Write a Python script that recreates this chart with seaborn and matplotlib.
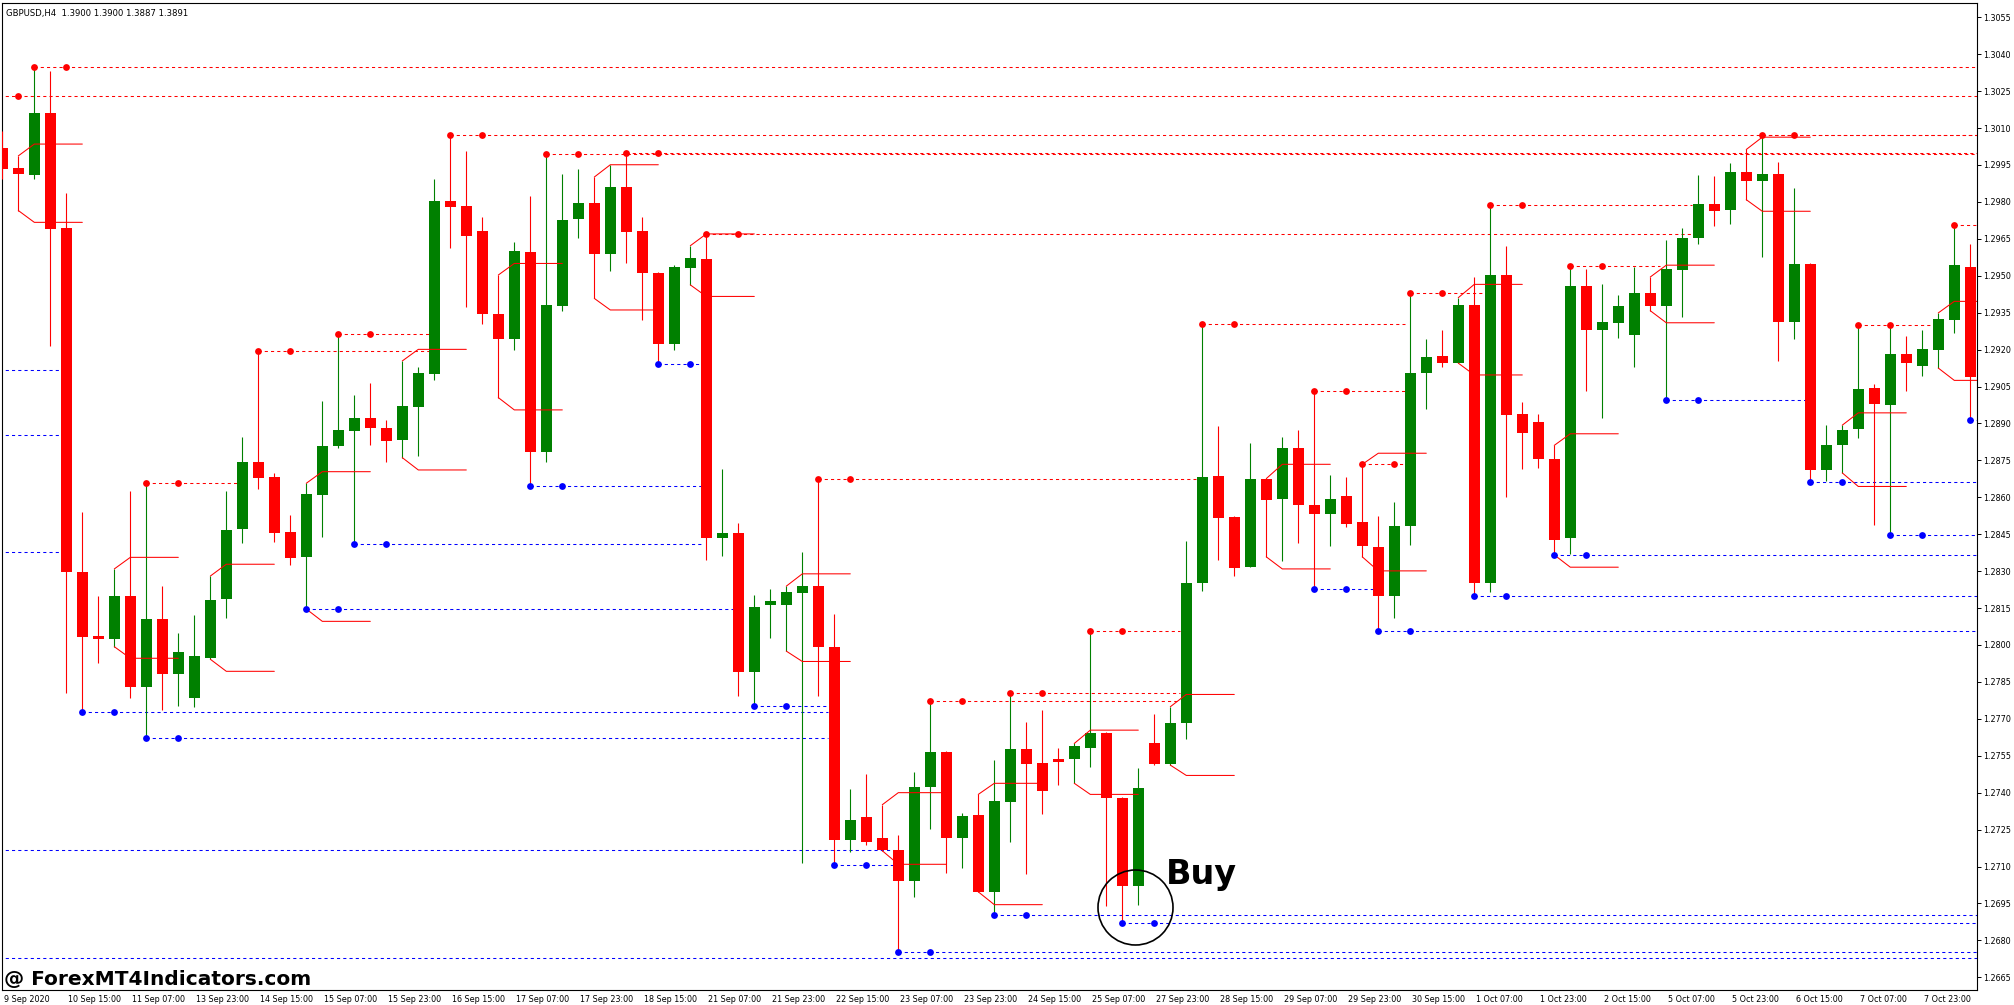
#!/usr/bin/env python
# -*- coding: utf-8 -*-

"""
GBPUSD H4 chart with fractal support / resistance levels
=========================================================

Redraws an MT4 screenshot: candles, fractal dots with their dotted
levels, daily range brackets and the "Buy" mark.
"""

import numpy as np
import pandas as pd
import matplotlib
matplotlib.use("Agg")
import matplotlib.pyplot as plt
from matplotlib.transforms import ScaledTranslation
import seaborn as sns

# --- candles (one per H4 bar, left to right) ---------------------------------
OPEN = [1.30019, 1.29936, 1.29911, 1.30161, 1.29692, 1.28297, 1.28037, 1.28026, 1.28199, 1.27831,
        1.28106, 1.27884, 1.27786, 1.27949, 1.28186, 1.28470, 1.28744, 1.28684, 1.28459, 1.28359,
        1.28610, 1.28809, 1.28871, 1.28922, 1.28882, 1.28833, 1.28968, 1.29102, 1.29804, 1.29783,
        1.29682, 1.29344, 1.29242, 1.29595, 1.28786, 1.29376, 1.29729, 1.29794, 1.29590, 1.29861,
        1.29682, 1.29510, 1.29222, 1.29533, 1.29568, 1.28435, 1.28453, 1.27891, 1.28164, 1.28164,
        1.28212, 1.28239, 1.27990, 1.27209, 1.27301, 1.27214, 1.27169, 1.27040, 1.27425, 1.27567,
        1.27214, 1.27308, 1.26997, 1.27363, 1.27577, 1.27520, 1.27537, 1.27535, 1.27582, 1.27644,
        1.27380, 1.27022, 1.27600, 1.27517, 1.27682, 1.28251, 1.28687, 1.28520, 1.28318, 1.28674,
        1.28595, 1.28799, 1.28567, 1.28532, 1.28605, 1.28500, 1.28398, 1.28197, 1.28483, 1.29105,
        1.29174, 1.29147, 1.29381, 1.28251, 1.29503, 1.28938, 1.28906, 1.28754, 1.28433, 1.29458,
        1.29279, 1.29309, 1.29259, 1.29428, 1.29378, 1.29525, 1.29655, 1.29791, 1.29769, 1.29921,
        1.29886, 1.29913, 1.29314, 1.29548, 1.28712, 1.28811, 1.28876, 1.29043, 1.28973, 1.29182,
        1.29135, 1.29199, 1.29321, 1.29535]
HIGH = [1.30088, 1.29987, 1.30347, 1.30332, 1.29835, 1.28540, 1.28199, 1.28309, 1.28626, 1.28657,
        1.28240, 1.28049, 1.28122, 1.28280, 1.28626, 1.28843, 1.29196, 1.28700, 1.28527, 1.28657,
        1.28991, 1.29264, 1.29016, 1.29065, 1.28914, 1.29154, 1.29129, 1.29893, 1.30073, 1.30007,
        1.29739, 1.29503, 1.29637, 1.29824, 1.29993, 1.29913, 1.29933, 1.29901, 1.29948, 1.30000,
        1.29739, 1.29515, 1.29545, 1.29622, 1.29670, 1.28714, 1.28495, 1.28202, 1.28226, 1.28239,
        1.28376, 1.28674, 1.28127, 1.27413, 1.27475, 1.27351, 1.27228, 1.27483, 1.27774, 1.27570,
        1.27318, 1.27393, 1.27532, 1.27806, 1.27687, 1.27736, 1.27580, 1.27600, 1.28055, 1.27646,
        1.27382, 1.27500, 1.27719, 1.27749, 1.28421, 1.29304, 1.28888, 1.28522, 1.28819, 1.28676,
        1.28843, 1.28873, 1.29030, 1.28689, 1.28682, 1.28734, 1.28522, 1.28580, 1.29428, 1.29242,
        1.29279, 1.29411, 1.29495, 1.29789, 1.29620, 1.28988, 1.28938, 1.28811, 1.29540, 1.29528,
        1.29465, 1.29423, 1.29535, 1.29495, 1.29647, 1.29694, 1.29908, 1.29906, 1.29958, 1.30013,
        1.30070, 1.29961, 1.29856, 1.29550, 1.28893, 1.28893, 1.29301, 1.29060, 1.29301, 1.29254,
        1.29279, 1.29349, 1.29707, 1.29627]
LOW = [1.29892, 1.29765, 1.29895, 1.29216, 1.27806, 1.27728, 1.27928, 1.27993, 1.27786, 1.27624,
       1.27736, 1.27754, 1.27749, 1.27942, 1.28108, 1.28416, 1.28635, 1.28420, 1.28326, 1.28146,
       1.28440, 1.28802, 1.28412, 1.28813, 1.28745, 1.28761, 1.28768, 1.29078, 1.29614, 1.29375,
       1.29306, 1.29005, 1.29199, 1.28647, 1.28744, 1.29358, 1.29652, 1.29408, 1.29520, 1.29553,
       1.29321, 1.29142, 1.29197, 1.29463, 1.28346, 1.28363, 1.27791, 1.27754, 1.28027, 1.27975,
       1.27114, 1.27791, 1.27107, 1.27157, 1.27189, 1.27164, 1.26754, 1.26977, 1.27251, 1.27072,
       1.27094, 1.26997, 1.26903, 1.27201, 1.27070, 1.27313, 1.27433, 1.27438, 1.27505, 1.26940,
       1.26870, 1.26945, 1.27512, 1.27512, 1.27619, 1.28221, 1.28346, 1.28279, 1.28316, 1.28358,
       1.28343, 1.28416, 1.28226, 1.28401, 1.28478, 1.28358, 1.28057, 1.28110, 1.28408, 1.28960,
       1.29130, 1.29145, 1.28197, 1.28214, 1.28602, 1.28714, 1.28719, 1.28366, 1.28371, 1.29030,
       1.28923, 1.29249, 1.29130, 1.29358, 1.28995, 1.29334, 1.29630, 1.29702, 1.29712, 1.29809,
       1.29577, 1.29155, 1.29242, 1.28662, 1.28667, 1.28699, 1.28839, 1.28488, 1.28445, 1.29030,
       1.29092, 1.29125, 1.29266, 1.28916]
CLOSE = [1.29935, 1.29912, 1.30161, 1.29691, 1.28298, 1.28034, 1.28026, 1.28199, 1.27831, 1.28106,
         1.27884, 1.27972, 1.27955, 1.28183, 1.28467, 1.28744, 1.28680, 1.28456, 1.28355, 1.28614,
         1.28809, 1.28874, 1.28922, 1.28883, 1.28830, 1.28971, 1.29105, 1.29804, 1.29781, 1.29663,
         1.29343, 1.29242, 1.29600, 1.28786, 1.29381, 1.29727, 1.29794, 1.29590, 1.29861, 1.29679,
         1.29513, 1.29222, 1.29535, 1.29573, 1.28433, 1.28453, 1.27891, 1.28154, 1.28177, 1.28214,
         1.28239, 1.27990, 1.27209, 1.27288, 1.27201, 1.27169, 1.27040, 1.27425, 1.27567, 1.27214,
         1.27306, 1.26997, 1.27366, 1.27577, 1.27517, 1.27408, 1.27525, 1.27590, 1.27644, 1.27380,
         1.27022, 1.27418, 1.27517, 1.27682, 1.28251, 1.28682, 1.28515, 1.28313, 1.28674, 1.28590,
         1.28799, 1.28567, 1.28532, 1.28592, 1.28493, 1.28403, 1.28197, 1.28483, 1.29105, 1.29169,
         1.29147, 1.29381, 1.28251, 1.29503, 1.28935, 1.28863, 1.28754, 1.28428, 1.29458, 1.29279,
         1.29311, 1.29376, 1.29428, 1.29378, 1.29528, 1.29652, 1.29791, 1.29764, 1.29921, 1.29886,
         1.29913, 1.29314, 1.29548, 1.28712, 1.28811, 1.28873, 1.29040, 1.28978, 1.29184, 1.29147,
         1.29202, 1.29324, 1.29545, 1.29090]

# --- axis labels ---------------------------------------------------------------
PRICE_TICKS = [1.2665, 1.2680, 1.2695, 1.2710, 1.2725, 1.2740, 1.2755, 1.2770, 1.2785,
               1.2800, 1.2815, 1.2830, 1.2845, 1.2860, 1.2875, 1.2890, 1.2905, 1.2920,
               1.2935, 1.2950, 1.2965, 1.2980, 1.2995, 1.3010, 1.3025, 1.3040, 1.3055]
DATE_TICK_BARS = [0, 4, 8, 12, 16, 20, 24, 28, 32, 36, 40, 44, 48, 52, 56, 60,
                  64, 68, 72, 76, 80, 84, 88, 92, 96, 100, 104, 108, 112, 116, 120]
DATE_LABELS = ["9 Sep 2020", "10 Sep 15:00", "11 Sep 07:00", "13 Sep 23:00", "14 Sep 15:00",
               "15 Sep 07:00", "15 Sep 23:00", "16 Sep 15:00", "17 Sep 07:00", "17 Sep 23:00",
               "18 Sep 15:00", "21 Sep 07:00", "21 Sep 23:00", "22 Sep 15:00", "23 Sep 07:00",
               "23 Sep 23:00", "24 Sep 15:00", "25 Sep 07:00", "27 Sep 23:00", "28 Sep 15:00",
               "29 Sep 07:00", "29 Sep 23:00", "30 Sep 15:00", "1 Oct 07:00", "1 Oct 23:00",
               "2 Oct 15:00", "5 Oct 07:00", "5 Oct 23:00", "6 Oct 15:00", "7 Oct 07:00",
               "7 Oct 23:00"]

# --- fractal resistance levels (red): fractal bar, level, bar where line stops
RES_BAR = [-1, 2, 9, 16, 21, 28, 34, 39, 44, 51, 58, 63, 68, 75, 82, 85, 88, 93, 98, 110, 116, 122]
RES_LEVEL = [1.30230, 1.30347, 1.28657, 1.29196, 1.29264, 1.30073, 1.29993, 1.30000, 1.29670,
             1.28674, 1.27774, 1.27806, 1.28055, 1.29304, 1.29030, 1.28734, 1.29428, 1.29789,
             1.29540, 1.30070, 1.29301, 1.29707]
RES_END = [124, 124, 14.65, 26.7, 26.7, 124, 124, 124, 105.6, 74.6, 73.6, 73.6, 73.6,
           87.7, 87.7, 87.7, 92.7, 105.6, 103.6, 124, 120.6, 124]

# --- fractal support levels (blue)
SUP_BAR = [-5, -5, -5, -5, -5, 5, 9, 19, 22, 33, 41, 47, 52, 56, 62, 70, 82, 86, 92, 97,
           104, 113, 118, 123]
SUP_LEVEL = [1.29116, 1.28852, 1.28377, 1.27166, 1.26728, 1.27728, 1.27624, 1.28146, 1.28412,
             1.28647, 1.29142, 1.27754, 1.27107, 1.26754, 1.26903, 1.26870, 1.28226, 1.28057,
             1.28197, 1.28366, 1.28995, 1.28662, 1.28445, 1.28916]
SUP_END = [3.6, 3.6, 3.6, 55.7, 124, 51.6, 51.6, 45.7, 43.7, 43.7, 43.7, 51.6, 55.7, 124,
           124, 124, 85.7, 124, 124, 124, 112.8, 124, 124, 124]

# --- daily range brackets: start bar, upper level, lower level
RANGE_BAR = [1, 7, 13, 19, 25, 31, 37, 43, 49, 55, 61, 67, 73, 79, 85, 91, 97, 103, 109, 115, 121]
RANGE_HIGH = [1.30035, 1.28356, 1.28328, 1.28704, 1.29201, 1.29550, 1.29951, 1.29670, 1.28289,
              1.27400, 1.27438, 1.27654, 1.27799, 1.28734, 1.28779, 1.29465, 1.28858, 1.29543,
              1.30063, 1.28943, 1.29396]
RANGE_LOW = [1.29717, 1.27946, 1.27893, 1.28096, 1.28711, 1.28955, 1.29361, 1.29416, 1.27933,
             1.27109, 1.26945, 1.27393, 1.27470, 1.28309, 1.28301, 1.29097, 1.28316, 1.29309,
             1.29762, 1.28644, 1.29075]

BUY_BAR = 70.8
BUY_PRICE = 1.26935

BULL = "#008000"
BEAR = "#ff0000"


def draw_candles(ax, df):
    """Wicks as vertical lines, bodies as bars."""
    colors = np.where(df["close"] >= df["open"], BULL, BEAR)
    ax.vlines(df["bar"], df["low"], df["high"], colors=colors, linewidth=0.8, zorder=3)
    body = (df["close"] - df["open"]).abs()
    bottom = df[["open", "close"]].min(axis=1)
    ax.bar(df["bar"], body, bottom=bottom, width=0.66, color=colors, linewidth=0, zorder=4)


def draw_levels(ax, bars, levels, ends, color):
    """Dotted fractal levels with a dot on the fractal bar and two bars later."""
    ax.hlines(levels, bars, ends, colors=color, linewidth=0.75,
              linestyles=(0, (3, 3)), zorder=2)
    dots = pd.DataFrame({
        "bar": list(bars) + [b + 2 for b in bars],
        "price": list(levels) * 2,
    })
    sns.scatterplot(data=dots, x="bar", y="price", color=color, s=24,
                    linewidth=0, legend=False, ax=ax, zorder=6)


def draw_ranges(ax, high, low):
    for k0, up, lo in zip(RANGE_BAR, RANGE_HIGH, RANGE_LOW):
        xs = [k0, k0 + 1, k0 + 4]
        ax.plot(xs, [high[k0], up, up], color=BEAR, linewidth=0.75, zorder=5)
        ax.plot(xs, [low[k0], lo, lo], color=BEAR, linewidth=0.75, zorder=5)


def plot_chart():
    sns.set_style("white")
    plt.rcParams["font.family"] = ["DejaVu Sans"]
    plt.rcParams["text.color"] = "black"

    df = pd.DataFrame({"open": OPEN, "high": HIGH, "low": LOW, "close": CLOSE})
    df["bar"] = np.arange(len(df))

    fig = plt.figure(figsize=(20.14, 10.05), dpi=100)
    ax = fig.add_axes([2 / 2014, 15 / 1005, 1975 / 2014, 987 / 1005])

    draw_levels(ax, RES_BAR, RES_LEVEL, RES_END, BEAR)
    draw_levels(ax, SUP_BAR, SUP_LEVEL, SUP_END, "#0000ff")
    draw_candles(ax, df)
    draw_ranges(ax, HIGH, LOW)

    # buy signal mark
    ax.plot(BUY_BAR, BUY_PRICE, marker="o", markersize=54, markerfacecolor="none",
            markeredgecolor="black", markeredgewidth=1.2, zorder=7)

    ax.set_xlim(-0.02, 123.42)
    ax.set_ylim(1.265983, 1.306081)
    ax.set_xlabel("")
    ax.set_ylabel("")

    ax.yaxis.tick_right()
    ax.set_yticks(PRICE_TICKS)
    ax.set_yticklabels([f"{p:.4f}" for p in PRICE_TICKS])
    ax.tick_params(axis="y", direction="out", length=3, width=0.7, pad=1.5,
                   labelsize=5.8, colors="black")

    ax.set_xticks(DATE_TICK_BARS)
    ax.set_xticklabels(DATE_LABELS, ha="left")
    ax.tick_params(axis="x", direction="out", length=3, width=0.7, pad=0.5,
                   labelsize=5.8, colors="black")
    shift = ScaledTranslation(2 / 100, 0, fig.dpi_scale_trans)
    for lab in ax.get_xticklabels():
        lab.set_transform(lab.get_transform() + shift)

    for side in ["left", "right", "bottom", "top"]:
        ax.spines[side].set_color("black")
        ax.spines[side].set_linewidth(0.8)

    # texts placed in figure pixels
    px = fig.dpi_scale_trans
    fig.text(6 / 100, 989 / 100, "GBPUSD,H4  1.3900 1.3900 1.3887 1.3891",
             transform=px, fontsize=6.1, color="black", va="baseline", ha="left")
    fig.text(3.5 / 100, 20.5 / 100, "@ ForexMT4Indicators.com", transform=px,
             fontsize=14.5, fontweight="bold", color="black", va="baseline", ha="left")
    fig.text(1166 / 100, 121 / 100, "Buy", transform=px, family=["DejaVu Sans"],
             fontsize=24, fontweight="bold", color="black", va="baseline", ha="left")

    fig.savefig("out.png", dpi=100)


if __name__ == "__main__":
    plot_chart()
